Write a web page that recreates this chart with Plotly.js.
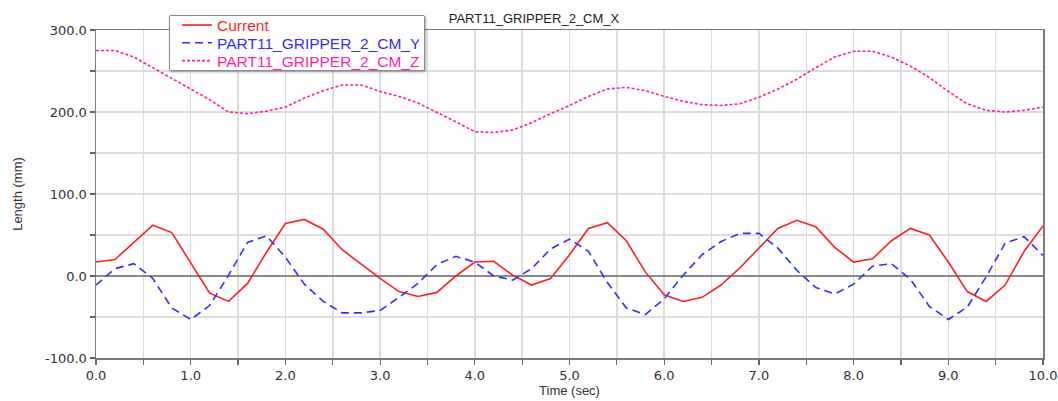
<!DOCTYPE html>
<html>
<head>
<meta charset="utf-8">
<script src="https://cdn.plot.ly/plotly-3.0.1.min.js"></script>
<style>
  html, body { margin: 0; padding: 0; background: #ffffff; }
  #chart { width: 1058px; height: 401px; }
</style>
</head>
<body>
<div id="chart"></div>
<script>
// ---- data ----
var chartTitle = "PART11_GRIPPER_2_CM_X";
var xAxisTitle = "Time (sec)";
var yAxisTitle = "Length (mm)";

var seriesNames = ["Current", "PART11_GRIPPER_2_CM_Y", "PART11_GRIPPER_2_CM_Z"];

var timeSec = [0.0, 0.2, 0.4, 0.6, 0.8, 1.0, 1.2, 1.4, 1.6, 1.8,
               2.0, 2.2, 2.4, 2.6, 2.8, 3.0, 3.2, 3.4, 3.6, 3.8,
               4.0, 4.2, 4.4, 4.6, 4.8, 5.0, 5.2, 5.4, 5.6, 5.8,
               6.0, 6.2, 6.4, 6.6, 6.8, 7.0, 7.2, 7.4, 7.6, 7.8,
               8.0, 8.2, 8.4, 8.6, 8.8, 9.0, 9.2, 9.4, 9.6, 9.8, 10.0];

var currentX = [17, 20, 41, 62, 53, 16, -21, -31, -9, 29,
                64, 69, 57, 32, 14, -3, -19, -25, -20, 0,
                17, 18, 1, -11, -3, 26, 58, 65, 43, 5,
                -23, -31, -26, -11, 10, 34, 58, 68, 60, 35,
                17, 21, 43, 58, 50, 17, -19, -31, -11, 30, 61];

var cmY = [-11, 9, 15, -3, -39, -53, -36, 1, 41, 49,
           23, -10, -31, -45, -45, -42, -26, -9, 14, 24,
           17, 0, -5, 9, 33, 45, 30, -8, -39, -47,
           -28, 1, 26, 42, 52, 52, 34, 7, -14, -22,
           -10, 12, 15, -4, -37, -53, -38, -1, 40, 48, 25];

var cmZ = [275, 275, 267, 254, 241, 229, 215, 200, 198, 201,
           206, 217, 226, 233, 233, 225, 219, 211, 200, 188,
           176, 175, 178, 187, 198, 208, 219, 228, 230, 226,
           219, 213, 209, 208, 210, 218, 228, 240, 254, 267,
           274, 274, 267, 256, 242, 225, 210, 202, 200, 202, 206];

var xTickVals = [0, 0.5, 1, 1.5, 2, 2.5, 3, 3.5, 4, 4.5, 5, 5.5, 6, 6.5, 7, 7.5, 8, 8.5, 9, 9.5, 10];
var xTickText = ["0.0", "", "1.0", "", "2.0", "", "3.0", "", "4.0", "", "5.0", "", "6.0", "", "7.0", "", "8.0", "", "9.0", "", "10.0"];
var yTickVals = [-100, -50, 0, 50, 100, 150, 200, 250, 300];
var yTickText = ["-100.0", "", "0.0", "", "100.0", "", "200.0", "", "300.0"];

// ---- styles ----
var colRed = "#ff1f1f";
var colBlue = "#2f2fff";
var colPink = "#ff1fa5";

var traces = [
  { x: timeSec, y: currentX, name: seriesNames[0], type: "scatter", mode: "lines",
    line: { color: colRed, width: 1.6 } },
  { x: timeSec, y: cmY, name: seriesNames[1], type: "scatter", mode: "lines",
    line: { color: colBlue, width: 1.6, dash: "8px,5px" } },
  { x: timeSec, y: cmZ, name: seriesNames[2], type: "scatter", mode: "lines",
    line: { color: colPink, width: 1.6, dash: "3px,2px" } }
];

var tickFont = { family: "DejaVu Sans, Arial, sans-serif", size: 13, color: "#333333" };
var titleFont = { family: "Liberation Sans, Arial, sans-serif", size: 13, color: "#333333" };

var layout = {
  width: 1058, height: 401,
  paper_bgcolor: "#ffffff", plot_bgcolor: "#ffffff",
  margin: { l: 96, r: 15, t: 30, b: 43 },
  showlegend: true,
  title: {
    text: chartTitle,
    font: { family: "Liberation Sans, Arial, sans-serif", size: 13, color: "#222222" },
    x: 0.4625, xref: "paper", xanchor: "center",
    y: 0.955, yref: "container", yanchor: "middle"
  },
  xaxis: {
    range: [0, 10], fixedrange: true,
    tickmode: "array", tickvals: xTickVals, ticktext: xTickText,
    ticks: "outside", ticklen: 5, tickwidth: 1.2, tickcolor: "#666666",
    showgrid: true, gridcolor: "#dddddd", gridwidth: 1.5,
    zeroline: false,
    showline: true, linecolor: "#7a7a7a", linewidth: 1.5, mirror: true,
    tickfont: tickFont,
    title: { text: xAxisTitle, font: titleFont, standoff: 0 }
  },
  yaxis: {
    range: [-100, 300], fixedrange: true,
    tickmode: "array", tickvals: yTickVals, ticktext: yTickText,
    ticks: "outside", ticklen: 5, tickwidth: 1.2, tickcolor: "#666666",
    showgrid: true, gridcolor: "#dddddd", gridwidth: 1.5,
    zeroline: true, zerolinecolor: "#8a8a8a", zerolinewidth: 1.5,
    showline: true, linecolor: "#7a7a7a", linewidth: 1.5, mirror: true,
    tickfont: tickFont,
    title: { text: yAxisTitle, font: titleFont, standoff: 19 }
  },
  legend: {
    x: 0.0771, xref: "paper", xanchor: "left",
    y: 1.0457, yref: "paper", yanchor: "top",
    bgcolor: "#ffffff", bordercolor: "#8c8c8c", borderwidth: 1,
    font: { family: "Liberation Sans, Arial, sans-serif", size: 15.5 },
    itemwidth: 30, tracegroupgap: 0
  }
};

Plotly.newPlot("chart", traces, layout, { staticPlot: true, displayModeBar: false }).then(function () {
  var cols = [colRed, colBlue, colPink];
  var leg = document.querySelector(".legend");
  if (!leg) return;
  // colour each legend label like its line
  leg.querySelectorAll(".traces .legendtext").forEach(function (t, i) { t.style.fill = cols[i]; });
  // tighten the legend rows like the reference (compact box)
  var items = leg.querySelectorAll(".traces");
  var rowGap = 17.8, firstY = 10, shiftX = 7;
  items.forEach(function (g, i) {
    var m = /translate\(\s*([-\d.]+)[ ,]+([-\d.]+)\s*\)/.exec(g.getAttribute("transform") || "");
    var x0 = m ? parseFloat(m[1]) : 0;
    g.setAttribute("transform", "translate(" + (x0 + shiftX) + "," + (firstY + i * rowGap) + ")");
  });
  var bg = leg.querySelector("rect.bg");
  if (bg) {
    bg.setAttribute("height", 55);
    bg.setAttribute("width", 255);
    bg.setAttribute("rx", 2); bg.setAttribute("ry", 2);
    bg.style.filter = "drop-shadow(1.5px 1.5px 1px rgba(0,0,0,0.35))";
  }
});
</script>
</body>
</html>
